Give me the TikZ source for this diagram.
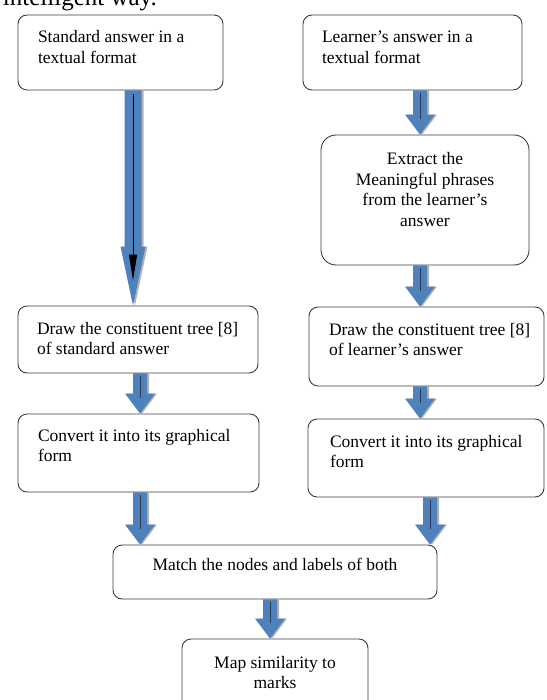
\documentclass[tikz,border=0pt]{standalone}
\usepackage{fontspec}
\setmainfont{Liberation Serif}
\usetikzlibrary{calc,arrows.meta}
\definecolor{arrblue}{RGB}{79,129,189}
\definecolor{arrshadow}{RGB}{178,178,178}
\definecolor{boxline}{RGB}{60,60,60}
\definecolor{innerline}{RGB}{45,58,80}
\tikzset{
  flowbox/.style={draw=boxline, line width=0.9pt, rounded corners=9pt, fill=white,
    inner sep=0pt, font=\fontsize{17.5}{20.5}\selectfont},
  innerstroke/.style={draw=innerline, line width=0.7pt},
}
% left-aligned text: height, width, left pad, first baseline, text
\newcommand\ltext[5]{\parbox[c][#1][t]{#2}{\raggedright\leftskip=#3\relax\rule{0pt}{#4}#5}}
% centred text: height, width, first baseline, text
\newcommand\ctext[4]{\parbox[c][#1][t]{#2}{\centering\rule{0pt}{#3}#4}}
% block arrow: x, from node, to node, shaft half width, head half width, head length
\newcommand\blockarrowG[6]{%
  \fill[arrshadow, shift={(2pt,-2pt)}] let \p1=(#2.south), \p2=(#3.north) in
    (#1-#4,\y1) -- (#1+#4,\y1) -- (#1+#4,\y2+#6) -- (#1+#5,\y2+#6) -- (#1,\y2)
    -- (#1-#5,\y2+#6) -- (#1-#4,\y2+#6) -- cycle;
  \fill[arrblue] let \p1=(#2.south), \p2=(#3.north) in
    (#1-#4,\y1) -- (#1+#4,\y1) -- (#1+#4,\y2+#6) -- (#1+#5,\y2+#6) -- (#1,\y2)
    -- (#1-#5,\y2+#6) -- (#1-#4,\y2+#6) -- cycle;
}
\newcommand\blockarrow[3]{%
  \blockarrowG{#1}{#2}{#3}{7pt}{15pt}{20pt}%
  \draw[innerstroke] let \p1=(#2.south), \p2=(#3.north) in
    (#1,\y1-3pt) -- (#1,\y2+16pt);
}
\begin{document}
\begin{tikzpicture}
\useasboundingbox (0,0) rectangle (546pt,-700pt);
\clip (0,0) rectangle (546pt,-700pt);

\node[anchor=base east, inner sep=0pt, font=\fontsize{25}{29}\selectfont] (toptext)
  at (157pt,-6pt) {intelligent way.};

\node[flowbox] (b1) at (120.5pt,-52.5pt)
  {\ltext{75pt}{205pt}{20pt}{28pt}{Standard answer in a\\textual format}};
\node[flowbox] (b2) at (412.5pt,-52.5pt)
  {\ltext{75pt}{219pt}{19pt}{28pt}{Learner’s answer in a\\textual format}};
\node[flowbox, rounded corners=15pt] (b3) at (425pt,-200pt)
  {\ctext{130pt}{208pt}{30pt}{Extract the\\Meaningful phrases\\from the learner’s\\answer}};
\node[flowbox] (b4) at (138pt,-339.5pt)
  {\ltext{67pt}{240pt}{19pt}{28pt}{Draw the constituent tree [8]\\of standard answer}};
\node[flowbox] (b5) at (426.5pt,-346.5pt)
  {\ltext{79pt}{235pt}{20pt}{28pt}{Draw the constituent tree [8]\\of learner’s answer}};
\node[flowbox] (b6) at (138.5pt,-453pt)
  {\ltext{78pt}{241pt}{20pt}{27pt}{Convert it into its graphical\\form}};
\node[flowbox] (b7) at (426pt,-458pt)
  {\ltext{78pt}{236pt}{22pt}{28pt}{Convert it into its graphical\\form}};
\node[flowbox] (match) at (275pt,-572pt)
  {\ctext{54pt}{324pt}{25pt}{Match the nodes and labels of both}};
\node[flowbox] (map) at (275pt,-675.5pt)
  {\ctext{73pt}{186pt}{29pt}{Map similarity to\\marks}};

% long arrow with inner black arrow
\blockarrowG{133pt}{b1}{b4}{8.5pt}{12.5pt}{59pt}
\draw[black, line width=1pt, -{Triangle[length=26pt,width=8pt]}]
  let \p1=(b1.south), \p2=(b4.north) in (133pt,\y1-4pt) -- (133pt,\y2+25pt);

\blockarrow{420pt}{b2}{b3}
\blockarrow{420pt}{b3}{b5}
\blockarrow{140pt}{b4}{b6}
\blockarrow{420pt}{b5}{b7}
\blockarrow{140pt}{b6}{match}
\blockarrow{430pt}{b7}{match}
\blockarrow{270pt}{match}{map}
\end{tikzpicture}
\end{document}
